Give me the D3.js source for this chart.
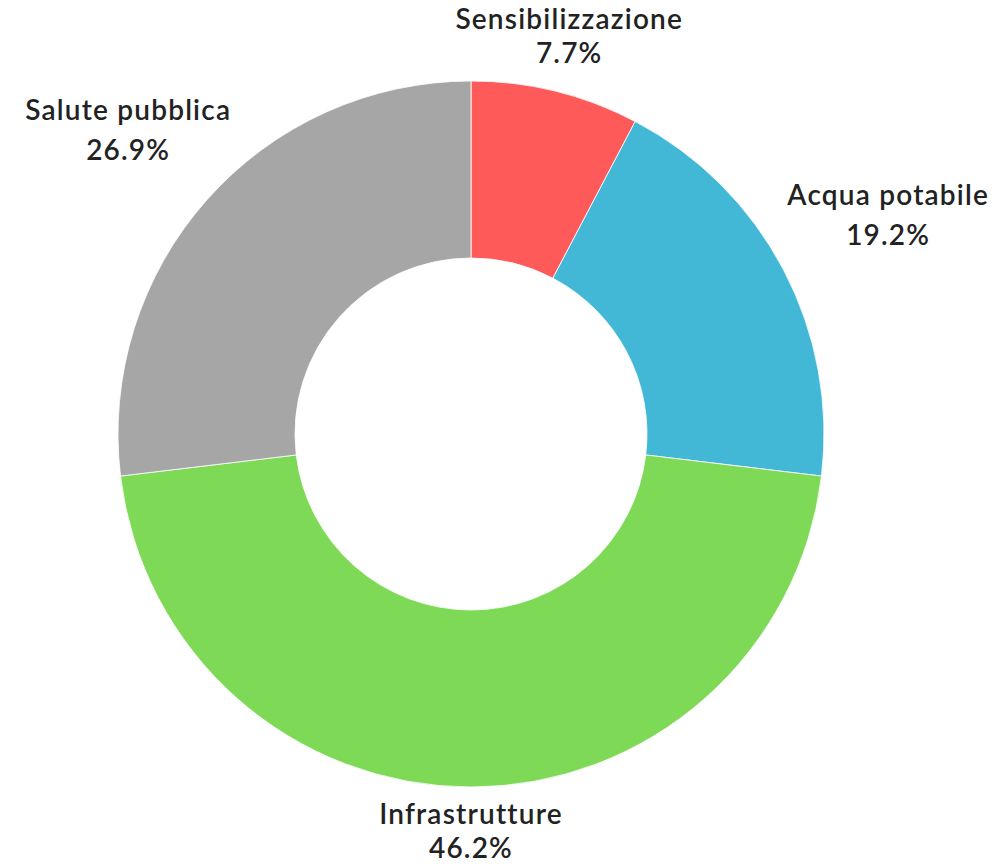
<!DOCTYPE html>
<html>
<head>
<meta charset="utf-8">
<script src="https://cdn.jsdelivr.net/npm/d3@7"></script>
<style>
	body { margin: 0; background: #fff; }
	svg { display: block; }
	.lbl { font-family: Lato, "Noto Sans", sans-serif; font-size: 28px; font-weight: 600; letter-spacing: 1.2px; fill: #222; }
</style>
</head>
<body>
<div class="chart"></div>
<script>
var WIDTH = 1006,
	HEIGHT = 864;

var categories = ["Sensibilizzazione", "Acqua potabile", "Infrastrutture", "Salute pubblica"];
var values = [7.7, 19.2, 46.2, 26.9];
var colors = ["#FF5A5A", "#42B7D6", "#7ED957", "#A6A6A6"];

var CX = 471, CY = 434,
	OUTER = 353, INNER = 176,
	LABEL_R = 370,
	LABEL_PAD = 12,
	FONT = 28;

var svg = d3.select(".chart").append("svg")
	.attr("width", WIDTH)
	.attr("height", HEIGHT);

var g = svg.append("g")
	.attr("transform", "translate(" + CX + "," + CY + ")");

var pie = d3.pie()
	.sort(null)
	.value(function(d) { return d; });

var arc = d3.arc()
	.innerRadius(INNER)
	.outerRadius(OUTER);

var arcs = pie(values);

g.selectAll("path")
	.data(arcs)
	.enter()
	.append("path")
	.attr("d", arc)
	.attr("fill", function(d, i) { return colors[i]; })
	.attr("stroke", "#fff")
	.attr("stroke-width", 0.8);

// labels: two lines, box (cap top .. last baseline) centred on the mid angle, pushed out
arcs.forEach(function(d, i) {
	var mid = (d.startAngle + d.endAngle) / 2;
	var s = Math.sin(mid), c = Math.cos(mid);
	var gap = Math.abs(s) > 0.5 ? 40 : 34;

	var lg = svg.append("g");
	var t = lg.append("text")
		.attr("class", "lbl")
		.attr("text-anchor", "middle");
	t.append("tspan").attr("x", 0).attr("y", 0).text(categories[i]);
	t.append("tspan").attr("x", 0).attr("y", gap).text(d3.format(".1f")(values[i]) + "%");

	var hw = t.node().getBBox().width / 2 + LABEL_PAD;
	var top = -0.72 * FONT, bottom = gap;
	var hh = (bottom - top) / 2;
	var r = LABEL_R + Math.sqrt(Math.pow(s * hw, 2) + Math.pow(c * hh, 2));
	var bx = CX + r * s, by = CY - r * c;
	lg.attr("transform", "translate(" + bx + "," + (by - (top + hh)) + ")");
});
</script>
</body>
</html>
